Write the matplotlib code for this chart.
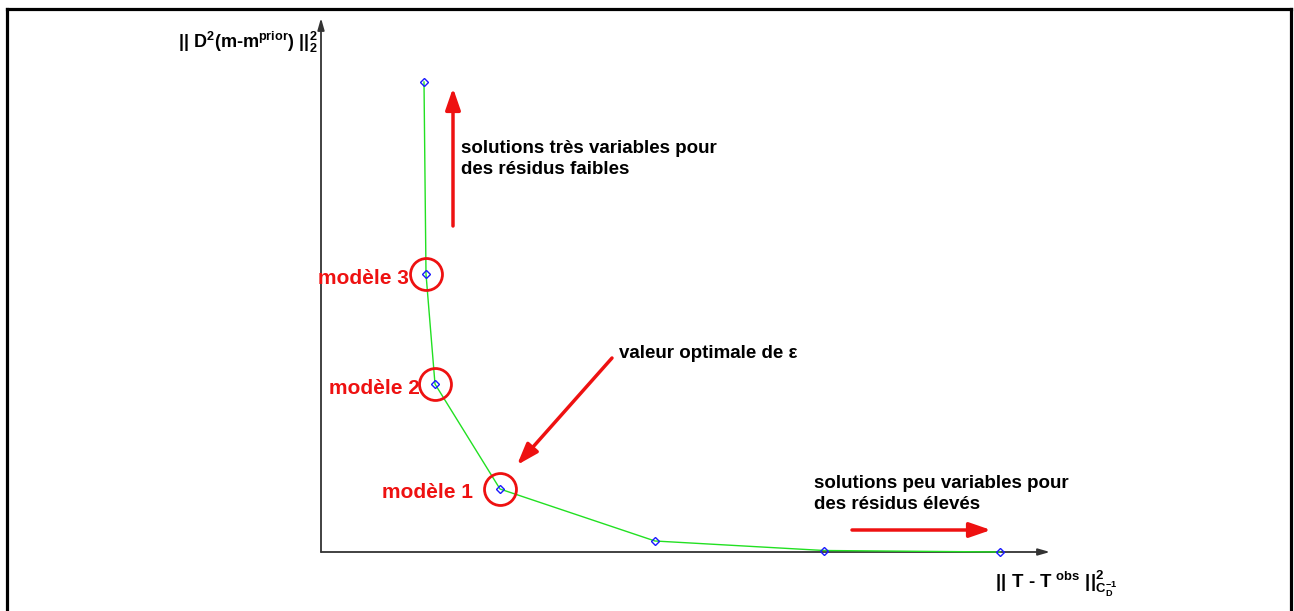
import matplotlib
matplotlib.use("Agg")
import matplotlib.pyplot as plt
from matplotlib.lines import Line2D

plt.rcParams['font.family'] = ['Liberation Sans', 'DejaVu Sans']
plt.rcParams['mathtext.fontset'] = 'custom'
plt.rcParams['mathtext.rm'] = 'Liberation Sans:bold'
plt.rcParams['mathtext.bf'] = 'Liberation Sans:bold'
plt.rcParams['mathtext.it'] = 'Liberation Sans:bold'

# L-curve data (arbitrary units)
residual = [1.03, 1.05, 1.14, 1.79, 3.34, 5.03, 6.79]
roughness = [4.70, 2.78, 1.68, 0.63, 0.11, 0.015, 0.0]
model_idx = [1, 2, 3]
model_labels = ["modèle 3", "modèle 2", "modèle 1"]
xmax, ymax = 7.29, 5.34

W, H = 1294, 611
fig = plt.figure(figsize=(W / 100, H / 100), dpi=100)
ax = fig.add_axes([321 / W, (H - 552) / H, (1050 - 321) / W, (552 - 18) / H])
ax.set_xlim(0, xmax)
ax.set_ylim(0, ymax)
ax.axis('off')

# frame (no bottom edge)
for xs, ys in [([7 / W, 7 / W], [0, 1 - 9 / H]), ([7 / W, 1 - 3 / W], [1 - 9 / H, 1 - 9 / H]),
               ([1 - 3 / W, 1 - 3 / W], [1 - 9 / H, 0])]:
    fig.add_artist(Line2D(xs, ys, transform=fig.transFigure, color='black', lw=2.3))

# axes arrows
for tip in [(1.0, 0), (0, 1.0)]:
    ax.annotate('', xy=tip, xytext=(0, 0), xycoords='axes fraction',
                arrowprops=dict(arrowstyle='-|>,head_length=0.7,head_width=0.2', color='#333333', lw=1.3,
                                shrinkA=0, shrinkB=0), annotation_clip=False)

# curve
ax.plot(residual, roughness, color='#22e022', lw=1.0, zorder=3, clip_on=False)
ax.plot(residual, roughness, linestyle='none', marker='D', markersize=4.2, markerfacecolor='none',
        markeredgecolor='#1a1aff', markeredgewidth=1.0, zorder=4, clip_on=False)

red = '#ee1111'
# model circles and labels
label_offsets = [(-17, -4), (-15, -4), (-27, -4)]
for i, lab, off in zip(model_idx, model_labels, label_offsets):
    ax.plot(residual[i], roughness[i], marker='o', markersize=23, markerfacecolor='none',
            markeredgecolor=red, markeredgewidth=2.0, zorder=5, clip_on=False)
    ax.annotate(lab, xy=(residual[i], roughness[i]), xytext=off, textcoords='offset pixels',
                ha='right', va='center', color=red, fontsize=15, fontweight='bold')


def red_arrow(x0, y0, x1, y1):
    ax.annotate('', xy=(x1, H - y1), xytext=(x0, H - y0), xycoords='figure pixels',
                textcoords='figure pixels',
                arrowprops=dict(arrowstyle='-|>,head_length=1.3,head_width=0.45', color=red, lw=2.5,
                                shrinkA=0, shrinkB=0))


red_arrow(453, 226, 453, 88)
red_arrow(612, 358, 517, 465)
red_arrow(852, 530, 991, 530)

fig.text(461 / W, 1 - 159 / H, "solutions très variables pour\ndes résidus faibles", ha='left', va='center',
         fontsize=13.5, fontweight='bold', linespacing=1.3)
fig.text(619 / W, 1 - 353 / H, "valeur optimale de ε", ha='left', va='center',
         fontsize=13.5, fontweight='bold')
fig.text(814 / W, 1 - 494 / H, "solutions peu variables pour\ndes résidus élevés", ha='left', va='center',
         fontsize=13.5, fontweight='bold', linespacing=1.3)

fig.text(178 / W, 1 - 42 / H, r'$||\ \mathregular{D^2(m\text{-}m^{prior})\ ||_2^2}$', ha='left', va='center',
         fontsize=13, fontweight='bold')
fig.text(995 / W, 1 - 584 / H, r'$||\ \mathregular{T\ \text{-}\ T^{\ obs}\ ||^2_{C_D^{-1}}}$', ha='left',
         va='center', fontsize=13.5, fontweight='bold')

fig.savefig('out.png', dpi=100)
